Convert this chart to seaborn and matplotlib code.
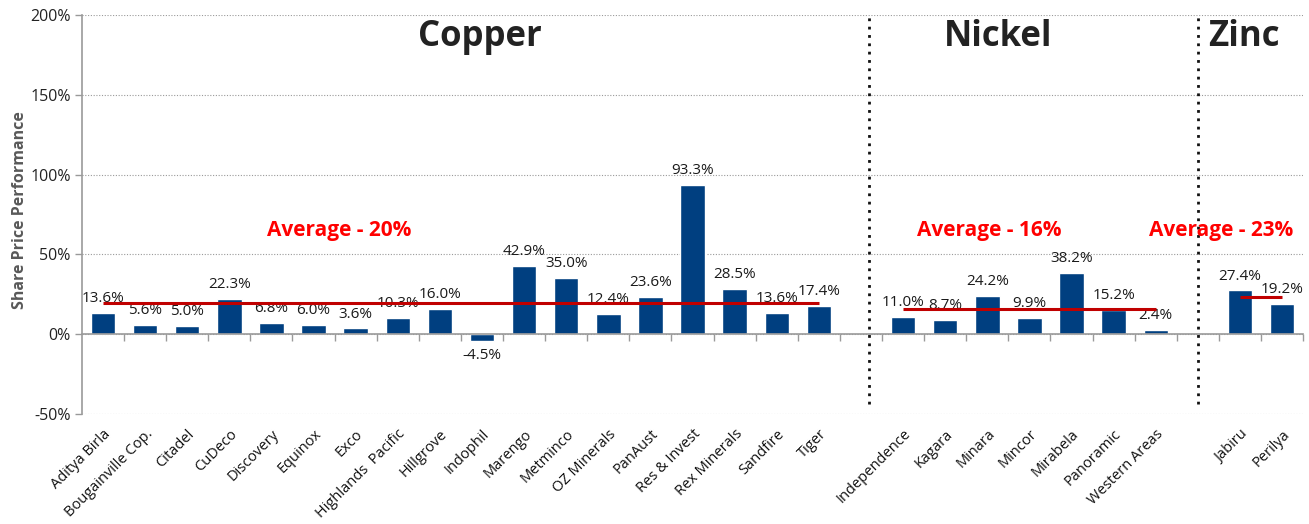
import numpy as np
import pandas as pd
import seaborn as sns
import matplotlib
matplotlib.use("Agg")
import matplotlib.pyplot as plt
from matplotlib.ticker import FuncFormatter, FixedLocator

# ---- data ----
copper_names = ["Aditya Birla", "Bougainville Cop.", "Citadel", "CuDeco", "Discovery",
                "Equinox", "Exco", "Highlands  Pacific", "Hillgrove", "Indophil", "Marengo",
                "Metminco", "OZ Minerals", "PanAust", "Res & Invest", "Rex Minerals",
                "Sandfire", "Tiger"]
copper_values = [13.6, 5.6, 5.0, 22.3, 6.8, 6.0, 3.6, 10.3, 16.0, -4.5, 42.9,
                 35.0, 12.4, 23.6, 93.3, 28.5, 13.6, 17.4]
nickel_names = ["Independence", "Kagara", "Minara", "Mincor", "Mirabela",
                "Panoramic", "Western Areas"]
nickel_values = [11.0, 8.7, 24.2, 9.9, 38.2, 15.2, 2.4]
zinc_names = ["Jabiru", "Perilya"]
zinc_values = [27.4, 19.2]
group_titles = ["Copper", "Nickel", "Zinc"]
y_ticks = [-50, 0, 50, 100, 150, 200]

# ---- build frame ----
gap1, gap2 = " ", "  "
order = copper_names + [gap1] + nickel_names + [gap2] + zinc_names
df = pd.DataFrame({
    "name": copper_names + nickel_names + zinc_names,
    "value": copper_values + nickel_values + zinc_values,
})

sns.set_theme(style="white")
plt.rcParams["font.family"] = ["Open Sans", "DejaVu Sans"]

fig = plt.figure(figsize=(13.09, 5.24), dpi=100)
ax = fig.add_axes([0.0626, 0.2099, 0.9329, 0.7615])

bar_color = "#003F80"
sns.barplot(data=df, x="name", y="value", order=order, color=bar_color,
            width=0.58, saturation=1, ax=ax, errorbar=None)

ax.set_xlim(-0.5, len(order) - 0.5)
ax.set_ylim(-50, 200)

# value labels
ax.bar_label(ax.containers[0], fmt="{:.1f}%", padding=5, fontsize=11, color="#1a1a1a")

# y axis
ax.set_yticks(y_ticks)
ax.yaxis.set_major_formatter(FuncFormatter(lambda v, p: f"{v:.0f}%"))
ax.tick_params(axis="y", labelsize=11.5, colors="#222222", length=5, width=1,
               direction="out", left=True, pad=3, color="#999999")
ax.set_ylabel("Share Price Performance", fontsize=11.5, fontweight="bold",
              color="#595959")
ax.yaxis.set_label_coords(-0.044, 0.51)

# grid
ax.grid(axis="y", linestyle=(0, (1, 1.5)), color="#9a9a9a", linewidth=0.8)
ax.grid(axis="x", visible=False)
ax.set_axisbelow(True)

for s in ["top", "right"]:
    ax.spines[s].set_visible(False)
ax.spines["left"].set_color("#9a9a9a")
ax.spines["left"].set_linewidth(1.2)
# zero line as bottom spine
ax.spines["bottom"].set_position(("data", 0))
ax.spines["bottom"].set_color("#9a9a9a")
ax.spines["bottom"].set_linewidth(1.2)
bounds = np.arange(len(order) + 1) - 0.5
ax.xaxis.set_major_locator(FixedLocator(bounds[1:]))
ax.set_xticklabels([])
ax.tick_params(axis="x", bottom=True, length=5, width=1, color="#9a9a9a", direction="out")
ax.set_xlabel("")

# category labels on a secondary axis at the bottom
sec = ax.secondary_xaxis("bottom")
sec.set_xticks(range(len(order)))
sec.set_xticklabels(order, rotation=45, ha="right", rotation_mode="anchor",
                    fontsize=10.5, color="#111111")
sec.tick_params(axis="x", length=0, pad=9)
sec.spines["bottom"].set_visible(False)

# averages
groups = [
    (copper_values, 0, len(copper_names) - 1, 5.6),
    (nickel_values, len(copper_names) + 1, len(copper_names) + len(nickel_names), 21.05),
    (zinc_values, len(order) - 2, len(order) - 1, 26.55),
]
for vals, x0, x1, tx in groups:
    avg = float(np.mean(vals))
    ax.hlines(avg, x0, x1, color="#C00000", linewidth=2.2, zorder=3)
    ax.text(tx, 65, f"Average - {round(avg):.0f}%", color="#FF0000", fontsize=15,
            fontweight="bold", ha="center", va="center")

# separators
sep_x = [len(copper_names) + 0.2, len(copper_names) + len(nickel_names) + 1.0]
ax.vlines(sep_x, -44, 200, colors="#111111", linestyles=(0, (1, 2)), linewidth=2)

# group titles
for title, tx in zip(group_titles, [8.95, 21.25, 27.1]):
    ax.text(tx, 186, title, fontsize=25, fontweight="bold", color="#222222",
            ha="center", va="center")

fig.savefig("out.png", dpi=100)
